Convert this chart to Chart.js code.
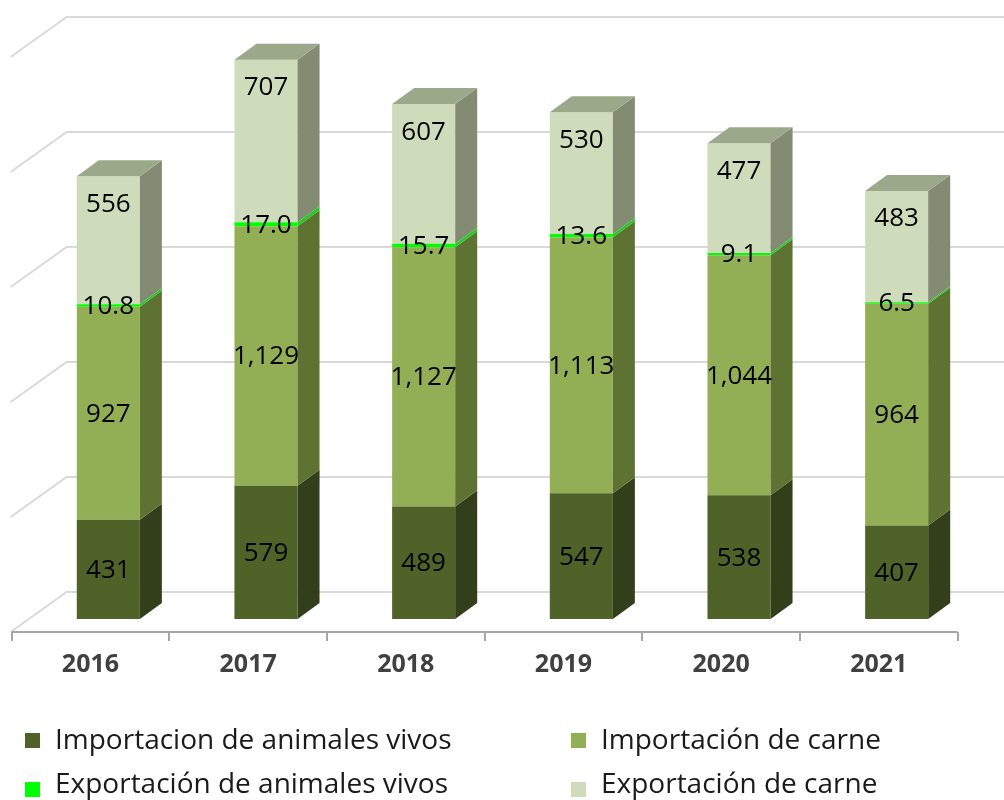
<!DOCTYPE html>
<html>
<head>
<meta charset="utf-8">
<script src="https://cdn.jsdelivr.net/npm/chart.js@4"></script>
<style>
  html, body { margin: 0; padding: 0; background: #ffffff; }
  #wrap { width: 1004px; height: 800px; }
</style>
</head>
<body>
<div id="wrap"><canvas id="c" width="1004" height="800"></canvas></div>
<script>
// ---------------- data ----------------
const categories = ['2016', '2017', '2018', '2019', '2020', '2021'];
const importAnimalesVivos = [431, 579, 489, 547, 538, 407];
const importCarne = [927, 1129, 1127, 1113, 1044, 964];
const exportAnimalesVivos = [10.8, 17.0, 15.7, 13.6, 9.1, 6.5];
const exportCarne = [556, 707, 607, 530, 477, 483];
const seriesNames = [
  'Importacion de animales vivos',
  'Importación de carne',
  'Exportación de animales vivos',
  'Exportación de carne'
];
const yTickValues = [0, 500, 1000, 1500, 2000, 2500];

// ---------------- styles ----------------
const frontColors = ['#4f6228', '#93af56', '#00ff00', '#cfdcbb'];
const sideColors  = ['#333f1a', '#5e7332', '#22cc22', '#838b73'];
const topColors   = ['#3f4e20', '#7a9447', '#11dd11', '#9ca88a'];
const FLOOR = { x: 55, y: 40 };      // full floor depth vector
const FRONT_T = 0.325;               // bar front position along depth
const BAR_T = 0.4;                   // bar depth fraction
const labelFont = '26px "Open Sans"';

function fmt(d, v) {
  if (d === 2) return v.toFixed(1);
  return v.toLocaleString('en-US');
}

const threeD = {
  id: 'threeD',
  beforeDatasetsDraw(chart) {
    const ctx = chart.ctx;
    const ys = chart.scales.y;
    const ca = chart.chartArea;
    const fx = -FLOOR.x * FRONT_T, fy = FLOOR.y * FRONT_T;
    const bx = FLOOR.x * (1 - FRONT_T), by = -FLOOR.y * (1 - FRONT_T);
    ctx.save();
    ctx.lineWidth = 2;
    ctx.strokeStyle = '#d9d9d9';
    yTickValues.forEach(v => {
      const p = ys.getPixelForValue(v);
      ctx.beginPath();
      ctx.moveTo(ca.left + fx - 1, p + fy);
      ctx.lineTo(ca.left + bx, p + by);
      ctx.lineTo(ca.right + bx + 20, p + by);
      ctx.stroke();
    });
    // front floor edge (axis)
    const p0 = ys.getPixelForValue(0) + fy;
    ctx.strokeStyle = '#a6a6a6';
    ctx.lineWidth = 2;
    ctx.beginPath();
    ctx.moveTo(ca.left + fx, p0);
    ctx.lineTo(ca.right + fx, p0);
    ctx.stroke();
    const n = categories.length;
    const step = (ca.right - ca.left) / n;
    for (let i = 0; i <= n; i++) {
      const xx = Math.round(ca.left + fx + i * step);
      ctx.beginPath();
      ctx.moveTo(xx, p0);
      ctx.lineTo(xx, p0 + 9);
      ctx.stroke();
    }
    ctx.restore();
  },
  afterDatasetsDraw(chart) {
    const ctx = chart.ctx;
    const dx = FLOOR.x * BAR_T, dy = FLOOR.y * BAR_T;
    const nd = chart.data.datasets.length;
    ctx.save();
    for (let i = 0; i < categories.length; i++) {
      let topD = 0;
      for (let d = 0; d < nd; d++) {
        const el = chart.getDatasetMeta(d).data[i];
        const { x, y, base, width } = el.getProps(['x', 'y', 'base', 'width'], true);
        const r = x + width / 2;
        ctx.fillStyle = sideColors[d];
        ctx.beginPath();
        ctx.moveTo(r, y);
        ctx.lineTo(r + dx, y - dy);
        ctx.lineTo(r + dx, base - dy);
        ctx.lineTo(r, base);
        ctx.closePath();
        ctx.fill();
        if (chart.data.datasets[d].data[i] > 0) topD = d;
      }
      const el = chart.getDatasetMeta(topD).data[i];
      const { x, y, width } = el.getProps(['x', 'y', 'width'], true);
      const l = x - width / 2, r = x + width / 2;
      ctx.fillStyle = topColors[topD];
      ctx.beginPath();
      ctx.moveTo(l, y);
      ctx.lineTo(l + dx, y - dy);
      ctx.lineTo(r + dx, y - dy);
      ctx.lineTo(r, y);
      ctx.closePath();
      ctx.fill();
    }
    // data labels
    ctx.font = labelFont;
    ctx.fillStyle = '#000000';
    ctx.textAlign = 'center';
    ctx.textBaseline = 'middle';
    for (let d = 0; d < nd; d++) {
      const meta = chart.getDatasetMeta(d);
      meta.data.forEach((el, i) => {
        const { x, y, base } = el.getProps(['x', 'y', 'base'], true);
        const v = chart.data.datasets[d].data[i];
        const ly = d === nd - 1 ? y + 28 : (y + base) / 2 + 1;
        ctx.fillText(fmt(d, v), x, ly);
      });
    }
    ctx.restore();
  },
  afterDraw(chart) {
    const ctx = chart.ctx;
    const xs = chart.scales.x;
    const fx = -FLOOR.x * FRONT_T;
    ctx.save();
    // category labels
    ctx.font = 'bold 25px "Open Sans"';
    ctx.fillStyle = '#404040';
    ctx.textAlign = 'center';
    ctx.textBaseline = 'middle';
    categories.forEach((c, i) => {
      ctx.fillText(c, xs.getPixelForValue(i) + fx, 665);
    });
    // legend
    ctx.font = '28px "Open Sans"';
    ctx.textAlign = 'left';
    ctx.textBaseline = 'alphabetic';
    const cols = [25, 571], rows = [733, 782], baselines = [749, 793];
    chart.data.datasets.forEach((ds, d) => {
      const cx = cols[d % 2], r = Math.floor(d / 2);
      ctx.fillStyle = frontColors[d];
      ctx.fillRect(cx, rows[r], 15, 15);
      ctx.fillStyle = '#1a1a1a';
      ctx.fillText(ds.label, cx + 30, baselines[r]);
    });
    ctx.restore();
  }
};

const seriesValues = [importAnimalesVivos, importCarne, exportAnimalesVivos, exportCarne];

new Chart(document.getElementById('c'), {
  type: 'bar',
  data: {
    labels: categories,
    datasets: seriesValues.map((vals, d) => ({
      label: seriesNames[d],
      data: vals,
      backgroundColor: frontColors[d],
      borderWidth: 0,
      barPercentage: 0.4,
      categoryPercentage: 1.0
    }))
  },
  options: {
    responsive: false,
    animation: false,
    layout: { padding: { left: 29.5, right: 28.5, top: 21, bottom: 181 } },
    plugins: { legend: { display: false }, tooltip: { enabled: false } },
    scales: {
      x: { stacked: true, display: false },
      y: { stacked: true, display: false, min: 0, max: 2600 }
    }
  },
  plugins: [threeD]
});
</script>
</body>
</html>
